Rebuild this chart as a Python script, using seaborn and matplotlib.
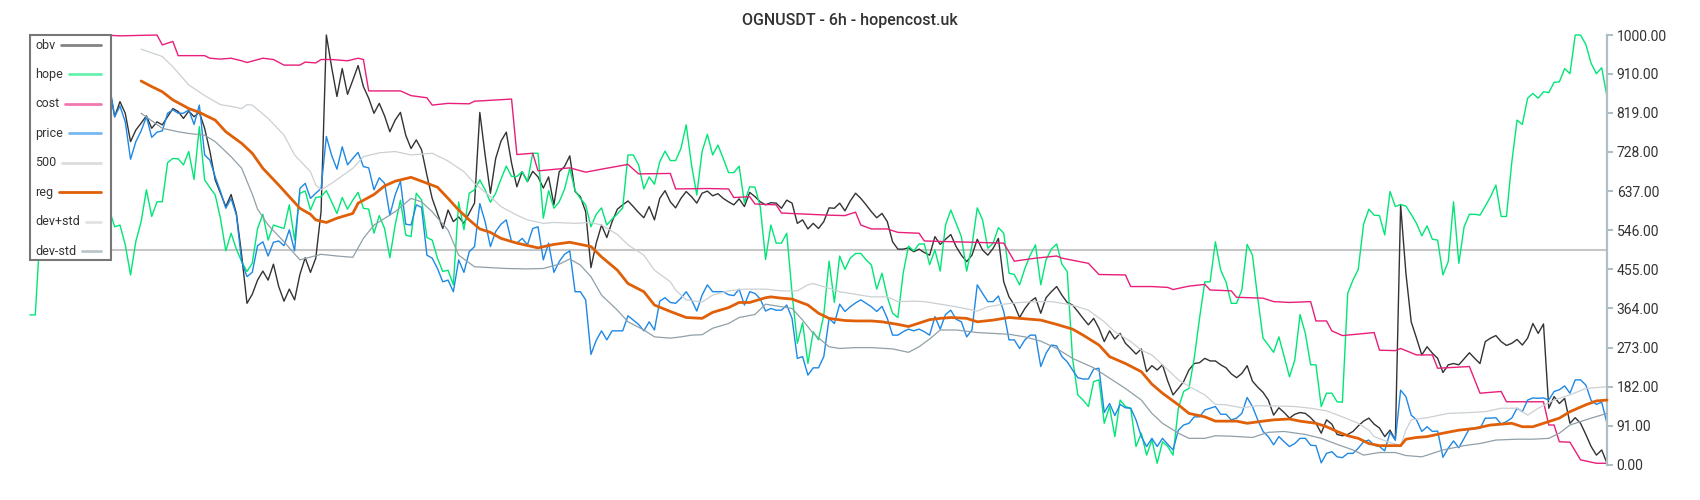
import numpy as np
import matplotlib
matplotlib.use("Agg")
import matplotlib.pyplot as plt
from matplotlib.patches import Rectangle
from matplotlib.lines import Line2D
from matplotlib.ticker import FormatStrFormatter
import seaborn as sns

title = "OGNUSDT - 6h - hopencost.uk"
y_ticks = [0, 91, 182, 273, 364, 455, 546, 637, 728, 819, 910, 1000]
level = 500

# one value per 6h bar (bar 0 .. 298)
hope = [349, 349, 560, 610, 640, 600, 585, 625, 650, 615,
        600, 630, 645, 610, 585, 593, 554, 558, 512, 442,
        520, 566, 640, 578, 612, 612, 703, 713, 712, 698,
        729, 664, 787, 663, 645, 628, 573, 498, 539, 502,
        473, 450, 469, 550, 583, 523, 558, 554, 550, 605,
        523, 632, 637, 593, 622, 624, 638, 612, 585, 622,
        595, 616, 634, 597, 595, 539, 580, 550, 482, 558,
        616, 535, 531, 632, 616, 529, 523, 481, 450, 453,
        419, 612, 547, 632, 640, 663, 640, 611, 632, 665,
        695, 671, 671, 682, 659, 725, 725, 574, 638, 597,
        612, 641, 690, 638, 620, 605, 554, 583, 598, 558,
        572, 584, 598, 721, 721, 698, 642, 670, 653, 705,
        730, 708, 708, 736, 791, 698, 628, 729, 769, 721,
        744, 713, 680, 680, 695, 610, 647, 646, 600, 478,
        558, 516, 516, 539, 400, 283, 331, 236, 310, 291,
        349, 474, 378, 486, 455, 481, 492, 492, 477, 465,
        409, 446, 391, 353, 343, 446, 509, 498, 514, 514,
        466, 500, 451, 558, 593, 562, 531, 451, 510, 598,
        570, 504, 516, 552, 539, 446, 443, 419, 457, 488,
        512, 419, 477, 502, 514, 467, 450, 248, 163, 151,
        136, 194, 198, 97, 136, 66, 151, 136, 132, 43,
        74, 23, 58, 4, 54, 43, 23, 132, 171, 178,
        248, 341, 426, 426, 519, 453, 426, 376, 376, 407,
        513, 488, 388, 295, 279, 262, 298, 252, 205, 244,
        350, 306, 233, 233, 136, 167, 167, 147, 146, 399,
        430, 455, 560, 595, 581, 580, 535, 636, 601, 606,
        602, 583, 562, 533, 556, 525, 523, 442, 473, 612,
        469, 554, 583, 583, 581, 602, 624, 651, 578, 578,
        703, 802, 792, 853, 864, 853, 868, 866, 890, 891,
        922, 910, 1000, 1000, 978, 934, 910, 924, 857]

price = [870, 865, 880, 860, 872, 850, 862, 878, 855, 868,
         858, 876, 866, 858, 872, 884, 810, 835, 798, 711,
         752, 777, 810, 762, 774, 777, 818, 826, 818, 818,
         826, 792, 837, 721, 709, 670, 636, 597, 620, 581,
         473, 438, 448, 510, 519, 486, 518, 521, 510, 547,
         498, 643, 655, 620, 632, 643, 764, 720, 688, 740,
         698, 713, 727, 694, 691, 640, 668, 655, 581, 628,
         660, 560, 558, 605, 599, 488, 481, 457, 426, 430,
         403, 477, 448, 496, 508, 608, 566, 508, 543, 560,
         570, 519, 516, 527, 512, 550, 554, 477, 516, 448,
         473, 490, 498, 403, 403, 384, 257, 290, 312, 291,
         312, 312, 312, 347, 337, 327, 312, 333, 314, 381,
         389, 378, 376, 388, 403, 384, 358, 395, 419, 403,
         403, 403, 396, 394, 409, 372, 403, 399, 386, 358,
         364, 360, 360, 372, 341, 248, 252, 209, 226, 226,
         252, 341, 329, 374, 357, 368, 377, 384, 376, 368,
         357, 369, 341, 302, 302, 310, 316, 312, 316, 310,
         302, 345, 316, 350, 360, 339, 333, 298, 314, 419,
         399, 380, 380, 393, 357, 291, 291, 271, 291, 302,
         302, 229, 260, 279, 277, 252, 240, 221, 203, 200,
         200, 223, 225, 122, 143, 115, 141, 133, 132, 105,
         66, 43, 62, 43, 62, 48, 35, 81, 93, 97,
         112, 112, 128, 132, 136, 118, 118, 105, 109, 120,
         157, 136, 105, 78, 66, 47, 66, 54, 43, 50,
         62, 62, 46, 45, 5, 27, 31, 19, 17, 27,
         27, 39, 54, 58, 46, 43, 33, 76, 58, 174,
         159, 116, 105, 78, 89, 78, 79, 18, 39, 56,
         40, 62, 85, 85, 85, 109, 109, 110, 95, 101,
         109, 132, 124, 151, 156, 155, 156, 151, 171, 175,
         184, 167, 198, 198, 186, 150, 141, 146, 97]

obv = [860, 850, 872, 845, 880, 858, 840, 865, 850, 872,
       845, 860, 840, 852, 835, 879, 810, 845, 818, 752,
       779, 795, 812, 783, 798, 791, 810, 829, 822, 806,
       823, 810, 820, 783, 729, 663, 632, 601, 629, 585,
       488, 376, 397, 430, 451, 430, 467, 415, 381, 409,
       384, 443, 482, 448, 481, 589, 1000, 925, 857, 922,
       862, 895, 929, 880, 853, 818, 841, 812, 775, 802,
       820, 767, 736, 756, 733, 674, 620, 585, 550, 593,
       566, 577, 562, 586, 609, 820, 721, 632, 713, 753,
       774, 702, 647, 682, 659, 683, 670, 644, 670, 605,
       682, 694, 719, 636, 624, 589, 459, 516, 558, 529,
       566, 595, 605, 614, 601, 587, 575, 601, 570, 620,
       638, 612, 598, 620, 636, 624, 609, 632, 637, 626,
       631, 620, 612, 605, 619, 601, 634, 624, 612, 605,
       610, 609, 597, 616, 609, 562, 570, 549, 562, 550,
       566, 598, 597, 609, 591, 614, 632, 620, 605, 589,
       575, 585, 566, 519, 502, 502, 505, 496, 502, 494,
       488, 531, 513, 525, 536, 508, 488, 473, 488, 525,
       500, 488, 504, 527, 426, 391, 372, 343, 364, 380,
       389, 353, 389, 403, 415, 395, 378, 372, 357, 341,
       326, 341, 318, 287, 312, 293, 306, 283, 271, 258,
       270, 217, 231, 221, 233, 195, 163, 178, 194, 221,
       236, 238, 248, 242, 242, 233, 226, 212, 203, 213,
       231, 195, 181, 169, 151, 116, 133, 122, 109, 118,
       122, 120, 110, 97, 74, 105, 95, 71, 68, 71,
       78, 91, 102, 109, 95, 86, 66, 81, 58, 605,
       446, 333, 295, 256, 275, 260, 248, 215, 233, 236,
       233, 247, 261, 248, 236, 287, 295, 301, 287, 278,
       283, 292, 279, 295, 329, 306, 328, 132, 159, 143,
       155, 97, 110, 97, 71, 43, 23, 35, 4]

# step-like / smooth series given at (bar, value) points
cost_t = [0, 8, 14, 17, 24, 25, 27, 28, 33, 34, 36, 38, 40, 41, 44, 46, 48, 51, 52, 54,
          55, 57, 60, 62, 63, 64, 70, 72, 75, 76, 79, 83, 84, 91, 92, 95, 96, 102, 105, 108,
          113, 115, 121, 122, 128, 132, 133, 136, 137, 141, 142, 151, 154, 156, 157, 159, 162, 164, 168, 169,
          184, 186, 190, 194, 195, 200, 202, 207, 208, 212, 215, 216, 219, 222, 223, 227, 228, 233, 235, 238,
          242, 243, 245, 246, 248, 254, 255, 258, 259, 262, 265, 266, 272, 274, 278, 279, 286, 287, 288, 289,
          291, 293, 296, 298]
cost_v = [995, 998, 1000, 998, 1000, 977, 985, 952, 952, 946, 944, 946, 940, 936, 946, 943, 930, 930, 937, 935,
          943, 943, 940, 946, 943, 870, 870, 859, 854, 837, 841, 840, 846, 851, 722, 725, 684, 691, 681, 688,
          699, 677, 678, 642, 643, 642, 622, 624, 607, 605, 586, 581, 580, 588, 558, 549, 549, 541, 539, 521,
          516, 474, 481, 486, 481, 469, 443, 442, 415, 415, 413, 408, 416, 420, 407, 405, 390, 388, 380, 378,
          380, 335, 335, 312, 301, 308, 267, 266, 271, 256, 256, 225, 229, 167, 171, 147, 147, 93, 93, 54,
          53, 12, 4, 4]

reg_t = [21, 23, 25, 27, 30, 32, 35, 37, 40, 42, 44, 47, 49, 51, 53, 54, 56, 58, 61, 62,
         65, 67, 69, 72, 74, 77, 79, 81, 83, 85, 87, 89, 92, 96, 99, 102, 106, 108, 111, 113,
         116, 118, 121, 124, 127, 129, 132, 134, 136, 139, 140, 142, 144, 147, 149, 151, 154, 156, 159, 161,
         164, 166, 168, 170, 172, 174, 177, 179, 182, 185, 188, 191, 194, 197, 199, 202, 204, 207, 210, 212,
         214, 217, 219, 222, 224, 228, 230, 233, 235, 238, 240, 243, 245, 247, 249, 251, 253, 255, 259, 260,
         262, 264, 267, 270, 273, 276, 280, 282, 284, 287, 289, 291, 294, 296, 298]
reg_v = [893, 880, 868, 849, 829, 820, 802, 775, 748, 725, 690, 651, 624, 597, 583, 570, 564, 574, 585, 609,
         629, 649, 660, 669, 660, 646, 620, 593, 570, 549, 541, 527, 516, 505, 513, 518, 508, 484, 453, 422,
         403, 372, 357, 343, 341, 355, 366, 378, 378, 389, 391, 388, 386, 372, 353, 341, 336, 335, 335, 333,
         327, 322, 330, 338, 341, 343, 341, 333, 337, 343, 340, 337, 327, 316, 302, 279, 252, 236, 217, 188,
         167, 140, 120, 112, 102, 102, 97, 102, 105, 107, 102, 97, 89, 78, 68, 62, 50, 45, 45, 60,
         64, 66, 74, 81, 85, 93, 97, 89, 89, 101, 109, 124, 140, 149, 151]

dev_up_t = [21, 25, 27, 30, 33, 36, 38, 40, 41, 42, 45, 48, 50, 53, 54, 55, 57, 61, 63, 66,
            69, 72, 76, 79, 82, 84, 87, 89, 92, 94, 97, 99, 103, 106, 108, 111, 113, 116, 118, 121,
            122, 124, 127, 129, 132, 135, 139, 142, 145, 147, 148, 151, 153, 156, 159, 162, 164, 167, 169, 172,
            175, 179, 181, 184, 187, 190, 193, 196, 198, 200, 203, 205, 208, 210, 212, 214, 217, 219, 222, 224,
            226, 229, 232, 236, 239, 242, 245, 248, 251, 253, 254, 257, 259, 260, 261, 264, 268, 272, 275, 278,
            281, 283, 285, 288, 291, 294, 298]
dev_up_v = [967, 950, 926, 884, 859, 838, 834, 829, 838, 837, 806, 767, 721, 682, 651, 640, 655, 690, 717, 726,
            729, 721, 725, 707, 682, 655, 624, 601, 581, 570, 562, 564, 562, 564, 558, 536, 512, 488, 453, 426,
            407, 384, 379, 395, 405, 409, 409, 405, 405, 419, 422, 411, 403, 397, 391, 391, 380, 381, 380, 374,
            368, 358, 368, 374, 378, 380, 380, 374, 368, 360, 333, 310, 287, 267, 256, 233, 198, 183, 163, 141,
            140, 133, 138, 137, 136, 132, 126, 112, 97, 81, 66, 52, 45, 81, 105, 110, 120, 122, 124, 132,
            132, 116, 132, 151, 163, 178, 182]

dev_lo_t = [21, 25, 28, 30, 33, 35, 38, 40, 42, 43, 45, 48, 51, 55, 58, 61, 63, 65, 69, 72,
            74, 76, 79, 81, 84, 90, 94, 97, 100, 102, 104, 106, 108, 111, 113, 116, 118, 121, 123, 125,
            127, 129, 132, 134, 137, 139, 142, 144, 146, 148, 151, 153, 156, 159, 163, 166, 168, 170, 172, 175,
            179, 182, 185, 188, 191, 194, 197, 201, 204, 207, 210, 212, 214, 217, 219, 222, 224, 227, 231, 234,
            237, 241, 244, 247, 250, 252, 255, 258, 260, 263, 267, 271, 274, 277, 281, 284, 287, 289, 291, 295,
            298]
dev_lo_v = [818, 783, 775, 771, 767, 752, 717, 690, 630, 595, 558, 519, 477, 490, 486, 483, 527, 558, 589, 620,
            612, 589, 546, 488, 461, 457, 456, 457, 467, 479, 465, 438, 395, 360, 333, 314, 298, 295, 298, 302,
            303, 318, 329, 343, 350, 374, 368, 364, 337, 306, 275, 271, 273, 273, 270, 262, 275, 293, 314, 314,
            308, 306, 304, 298, 288, 271, 248, 226, 202, 178, 151, 120, 97, 74, 62, 62, 68, 67, 64, 76,
            78, 71, 62, 48, 35, 23, 29, 29, 22, 19, 35, 45, 50, 58, 60, 60, 62, 74, 93, 109,
            120]

labels = ["obv", "hope", "cost", "price", "500", "reg", "dev+std", "dev-std"]
colors = {"obv": "#333333", "hope": "#00e676", "cost": "#e91e7a", "price": "#1e88e5",
          "500": "#c6c6c6", "reg": "#df6008", "dev+std": "#cbd0d4", "dev-std": "#90a0a8"}
widths = {"obv": 1.0, "hope": 1.0, "cost": 1.0, "price": 1.0,
          "500": 1.5, "reg": 2.0, "dev+std": 0.9, "dev-std": 0.9}

sns.set_style("white")
plt.rcParams["font.family"] = ["Roboto", "DejaVu Sans"]

W, H = 1700, 500
fig = plt.figure(figsize=(W / 100, H / 100), dpi=100)
# plot box in pixels: x 30..1607, y 35..465
ax = fig.add_axes([30 / W, 35 / H, 1577 / W, 430 / H])

bars = np.arange(len(hope))
series = {
    "500": (bars, [level] * len(bars)),
    "obv": (bars, obv),
    "hope": (bars, hope),
    "cost": (cost_t, cost_v),
    "price": (bars, price),
    "dev+std": (dev_up_t, dev_up_v),
    "dev-std": (dev_lo_t, dev_lo_v),
    "reg": (reg_t, reg_v),
}
for z, (name, (x, y)) in enumerate(series.items()):
    sns.lineplot(x=np.asarray(x), y=np.asarray(y), ax=ax, color=colors[name],
                 linewidth=widths[name], estimator=None, legend=False,
                 clip_on=False, zorder=2 + z * 0.1)

ax.set_xlim(0, 298)
ax.set_ylim(0, 1000)
ax.set_xlabel("")
ax.set_ylabel("")
ax.set_xticks([])
for s in ["top", "left", "bottom"]:
    ax.spines[s].set_visible(False)
ax.spines["right"].set_color("#b0bec5")
ax.spines["right"].set_linewidth(1.6)
ax.yaxis.tick_right()
ax.set_yticks(y_ticks)
ax.yaxis.set_major_formatter(FormatStrFormatter("%.2f"))
ax.tick_params(axis="y", direction="out", length=4, width=1.5, color="#b0bec5",
               labelcolor="#333333", labelsize=10, pad=3)
ax.grid(False)

fig.text(0.5, 1 - 21 / H, title, ha="center", va="center", fontsize=11.5,
         fontweight="medium", color="#333333")


# legend box: text on the left, line sample running to the right edge
def fx(px):
    return (px - 30) / 1577


def fy(py):
    return (465 - py) / 430


ax.add_patch(Rectangle((fx(30), fy(260)), fx(111) - fx(30), fy(35) - fy(260),
                       transform=ax.transAxes, facecolor="white", edgecolor="#777777",
                       linewidth=1.5, zorder=20, clip_on=False))
row_y = np.linspace(45, 251, len(labels))
texts = []
for lab, py in zip(labels, row_y):
    texts.append(ax.text(fx(35), fy(py), lab, transform=ax.transAxes, ha="left",
                         va="center", fontsize=9, color="#333333", zorder=21))
fig.canvas.draw()
renderer = fig.canvas.get_renderer()
for t, lab, py in zip(texts, labels, row_y):
    x0 = t.get_window_extent(renderer).x1 + 6
    ax.add_line(Line2D([fx(x0), fx(101)], [fy(py), fy(py)], transform=ax.transAxes,
                       color=colors[lab], linewidth=2, alpha=0.6 if lab != "reg" else 1.0,
                       zorder=21, clip_on=False))

fig.savefig("out.png", dpi=100)
